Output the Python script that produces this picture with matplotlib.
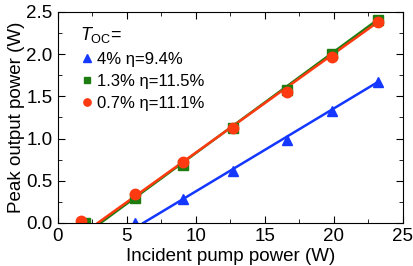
import matplotlib
matplotlib.use("Agg")
import matplotlib.pyplot as plt
import numpy as np
from matplotlib.ticker import MultipleLocator

plt.rcParams['font.family'] = ['Liberation Sans', 'DejaVu Sans']
plt.rcParams['mathtext.fontset'] = 'custom'
plt.rcParams['mathtext.rm'] = 'Liberation Sans'
plt.rcParams['mathtext.it'] = 'Liberation Sans:italic'

# incident pump power (W)
x_blue = [5.6, 9.1, 12.7, 16.6, 19.9, 23.2]
y_blue = [0.0, 0.28, 0.62, 0.98, 1.33, 1.67]
x_green = [2.0, 5.6, 9.1, 12.7, 16.6, 19.9, 23.2]
y_green = [0.0, 0.30, 0.69, 1.12, 1.57, 2.00, 2.41]
x_red = [1.7, 5.6, 9.1, 12.7, 16.6, 19.9, 23.2]
y_red = [0.02, 0.34, 0.72, 1.12, 1.55, 1.97, 2.38]

# linear fit lines: (threshold x, end x), (0, end y)
fit_blue = ([6.2, 23.2], [0.0, 1.67])
fit_green = ([3.1, 23.2], [0.0, 2.41])
fit_red = ([2.9, 23.2], [0.0, 2.38])

labels = ["4% \u03b7=9.4%", "1.3% \u03b7=11.5%", "0.7% \u03b7=11.1%"]

c_blue = "#1438ff"
c_green = "#1e7d10"
c_red = "#ff3a10"

fig = plt.figure(figsize=(4.13, 2.66), dpi=100)
ax = fig.add_axes([0.14, 0.162, 0.835, 0.793])

ax.plot(fit_blue[0], fit_blue[1], color=c_blue, lw=1.8)
ax.plot(fit_green[0], fit_green[1], color=c_green, lw=1.8)
ax.plot(fit_red[0], fit_red[1], color=c_red, lw=1.8)

ax.plot(x_blue, y_blue, '^', color=c_blue, ms=7.5, ls='none', label=labels[0])
ax.plot(x_green, y_green, 's', color=c_green, ms=6.5, ls='none', label=labels[1])
ax.plot(x_red, y_red, 'o', color=c_red, ms=7.5, ls='none', label=labels[2])

ax.set_xlim(0, 25)
ax.set_ylim(0, 2.5)
ax.xaxis.set_major_locator(MultipleLocator(5))
ax.xaxis.set_minor_locator(MultipleLocator(2.5))
ax.yaxis.set_major_locator(MultipleLocator(0.5))
ax.yaxis.set_minor_locator(MultipleLocator(0.25))
ax.yaxis.set_major_formatter(matplotlib.ticker.FormatStrFormatter('%.1f'))
ax.tick_params(which='both', direction='in', top=True, right=True, labelsize=13.5)
ax.tick_params(which='major', length=5, pad=4)
ax.tick_params(which='minor', length=3)

ax.set_xlabel("Incident pump power (W)", fontsize=13.5, labelpad=2)
ax.set_ylabel("Peak output power (W)", fontsize=13.5, labelpad=1)

leg = ax.legend(title="$T_{\\mathrm{OC}}$=", loc='upper left', frameon=False,
                bbox_to_anchor=(0.035, 0.985),
                fontsize=12, title_fontsize=13, handletextpad=0.25,
                handlelength=0.8, labelspacing=0.42, borderaxespad=0.3,
                markerscale=0.7, borderpad=0.3)
leg._legend_box.align = "left"

fig.savefig("out.png", dpi=100)
